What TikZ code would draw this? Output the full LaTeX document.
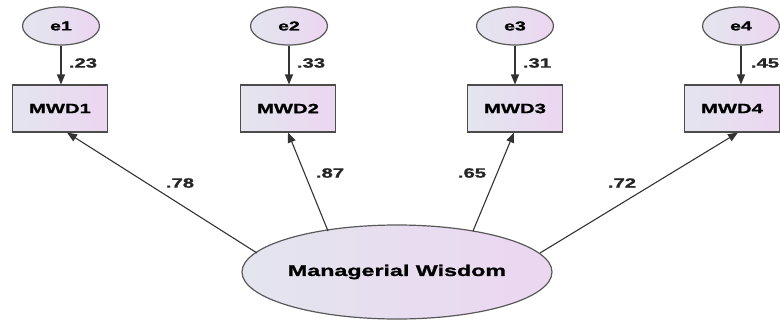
\documentclass[tikz,border=0pt]{standalone}
\usepackage{fontspec}
\setmainfont{Liberation Sans}[FakeStretch=1.5,BoldFeatures={FakeBold=1.2}]
\usetikzlibrary{arrows.meta,shapes.geometric}
\definecolor{fillL}{HTML}{E3E5EF}
\definecolor{fillR}{HTML}{ECD6F0}
\begin{document}
\begin{tikzpicture}[x=1pt,y=-1pt,
  lat/.style={ellipse,draw=black!65,line width=1.2pt,left color=fillL,right color=fillR,inner sep=0pt},
  obs/.style={rectangle,draw=black!70,line width=1.1pt,left color=fillL,right color=fillR,minimum width=95pt,minimum height=47pt,font=\bfseries\fontsize{13.5}{15}\selectfont},
  err/.style={lat,minimum width=77pt,minimum height=38pt,font=\bfseries\fontsize{13}{15}\selectfont},
  arr/.style={-{Triangle[length=10pt,width=8pt]},line width=1.1pt,draw=black!80},
  coef/.style={font=\bfseries\fontsize{13.5}{15}\selectfont,text=black!85}]
\useasboundingbox (0,0) rectangle (780,322);
\node[lat,minimum width=310pt,minimum height=94pt,font=\bfseries\fontsize{15.5}{17}\selectfont] (mw) at (397,272) {Managerial Wisdom};
\node[obs] (m1) at (60,108.5) {MWD1};
\node[obs] (m2) at (288,108.5) {MWD2};
\node[obs] (m3) at (515,108.5) {MWD3};
\node[obs] (m4) at (732,108.5) {MWD4};
\node[err] (e1) at (61,26) {e1};
\node[err] (e2) at (289,26) {e2};
\node[err] (e3) at (515,26) {e3};
\node[err] (e4) at (741,26) {e4};
\foreach \i in {1,2,3,4} {
  \draw[arr] (e\i.south) -- (e\i.south |- m\i.north);
}
\node[coef] (c1) at (83,63) {.23};
\node[coef] (c2) at (311,63) {.33};
\node[coef] (c3) at (537,63) {.31};
\node[coef] (c4) at (765,63) {.45};
\coordinate (b1) at (257,253);
\coordinate (b2) at (328,231);
\coordinate (b3) at (473,231);
\coordinate (b4) at (540,253);
\draw[arr] (b1) -- (m1.south east -| 67,0);
\draw[arr] (b2) -- (m2.south -| 288,0);
\draw[arr] (b3) -- (m3.south -| 514,0);
\draw[arr] (b4) -- (m4.south -| 738,0);
\node[coef] (l1) at (180,183) {.78};
\node[coef] (l2) at (330,173) {.87};
\node[coef] (l3) at (472,173) {.65};
\node[coef] (l4) at (622,183) {.72};
\end{tikzpicture}
\end{document}
